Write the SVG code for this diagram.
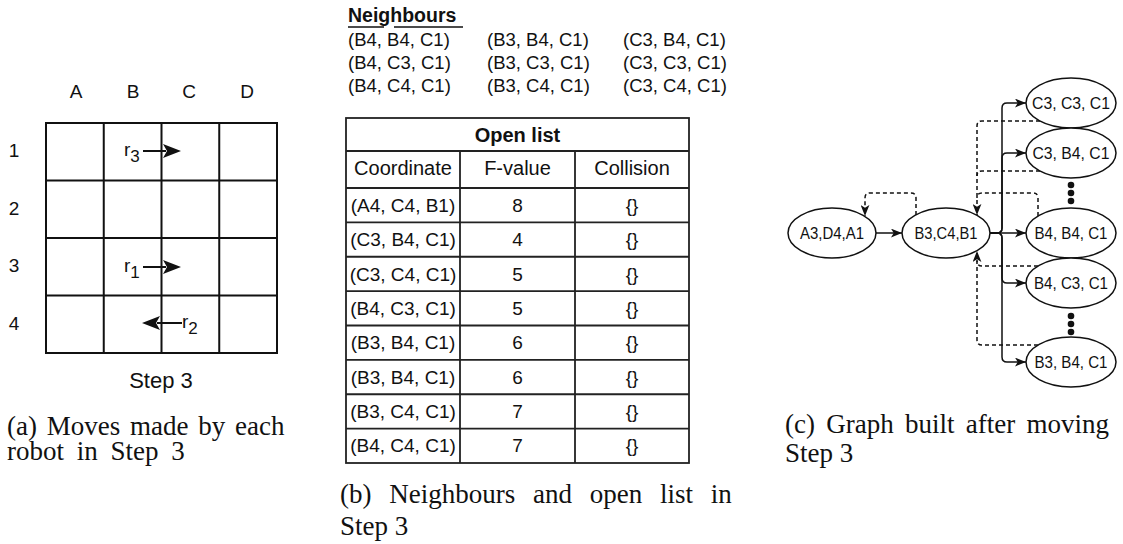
<svg xmlns="http://www.w3.org/2000/svg" width="1123" height="544" viewBox="0 0 1123 544">
  <style>
    .sans { font-family: "Liberation Sans", Arial, sans-serif; fill: #111; }
    .serif { font-family: "Liberation Serif", "Times New Roman", serif; font-size: 27px; fill: #111; }
    .grid { fill: none; stroke: #111; stroke-width: 2; }
    .tbl { fill: none; stroke: #222; stroke-width: 1.8; }
    .mv { stroke: #111; stroke-width: 2; fill: none; }
    .node { fill: #fff; stroke: #111; stroke-width: 1.5; }
    .edge { fill: none; stroke: #111; stroke-width: 1.5; }
    .back { fill: none; stroke: #111; stroke-width: 1.5; stroke-dasharray: 4 3; }
    .lbl { font-size: 17px; text-anchor: middle; }
    .cell { font-size: 19px; text-anchor: middle; }
  </style>
  <defs>
    <marker id="arr" viewBox="0 0 10 8" refX="10" refY="4" markerWidth="11" markerHeight="9" markerUnits="userSpaceOnUse" orient="auto">
      <path d="M0,0 L10,4 L0,8 L2.5,4 z" fill="#111"/>
    </marker>
    <path id="bigHead" d="M0,0 L-18,-7 L-14,0 L-18,7 z" fill="#111"/>
  </defs>

  <rect width="1123" height="544" fill="#fff"/>

  <!-- (a) grid with robot moves -->
  <g id="panel-a">
    <rect class="grid" x="46" y="123" width="231" height="230"/>
    <path class="grid" d="M103.75,123 V353 M161.5,123 V353 M219.25,123 V353 M46,180.5 H277 M46,238 H277 M46,295.5 H277"/>
    <g class="sans" font-size="19" text-anchor="middle">
      <text x="76" y="98">A</text>
      <text x="133" y="98">B</text>
      <text x="189" y="98">C</text>
      <text x="247" y="98">D</text>
      <text x="14" y="157">1</text>
      <text x="14" y="215">2</text>
      <text x="14" y="272">3</text>
      <text x="14" y="330">4</text>
    </g>
    <g id="r3">
      <text class="sans" font-size="19" x="124" y="156">r<tspan font-size="17" dy="6">3</tspan></text>
      <path class="mv" d="M143,151 H166"/>
      <use href="#bigHead" x="181" y="151"/>
    </g>
    <g id="r1">
      <text class="sans" font-size="19" x="124" y="272">r<tspan font-size="17" dy="6">1</tspan></text>
      <path class="mv" d="M143,267 H166"/>
      <use href="#bigHead" x="181" y="267"/>
    </g>
    <g id="r2">
      <text class="sans" font-size="19" x="182" y="328">r<tspan font-size="17" dy="6">2</tspan></text>
      <path class="mv" d="M182,323 H157"/>
      <use href="#bigHead" transform="translate(142,323) rotate(180)"/>
    </g>
    <text class="sans" font-size="22" x="161" y="388" text-anchor="middle">Step 3</text>
    <text class="serif" x="7" y="435" word-spacing="3">(a) Moves made by each</text>
    <text class="serif" x="7" y="460" word-spacing="6">robot in Step 3</text>
  </g>

  <!-- (b) neighbours and open list -->
  <g id="panel-b">
    <text class="sans" font-size="19.5" font-weight="bold" x="348" y="22">Neighbours</text>
    <path d="M348,27 H384 M394,27 H463" stroke="#111" stroke-width="1.6"/>
    <g class="sans" font-size="18.5">
      <text x="348" y="46">(B4, B4, C1)</text>
      <text x="487" y="46">(B3, B4, C1)</text>
      <text x="623" y="46">(C3, B4, C1)</text>
      <text x="348" y="69">(B4, C3, C1)</text>
      <text x="487" y="69">(B3, C3, C1)</text>
      <text x="623" y="69">(C3, C3, C1)</text>
      <text x="348" y="92">(B4, C4, C1)</text>
      <text x="487" y="92">(B3, C4, C1)</text>
      <text x="623" y="92">(C3, C4, C1)</text>
    </g>

    <g id="open-list">
      <rect class="tbl" x="346" y="118" width="343" height="345"/>
      <path class="tbl" d="M346,151 H689 M346,188 H689 M346,222.4 H689 M346,256.75 H689 M346,291.1 H689 M346,325.5 H689 M346,359.9 H689 M346,394.25 H689 M346,428.6 H689 M460,151 V463 M575,151 V463"/>
      <text class="sans" font-size="20" font-weight="bold" x="517.5" y="142" text-anchor="middle">Open list</text>
      <g class="sans" font-size="20" text-anchor="middle">
        <text x="403" y="175">Coordinate</text>
        <text x="517.5" y="175">F-value</text>
        <text x="632" y="175">Collision</text>
      </g>
      <g class="sans cell">
        <text x="403" y="211.7">(A4, C4, B1)</text><text x="517.5" y="211.7">8</text><text x="632" y="211.7">{}</text>
        <text x="403" y="246.1">(C3, B4, C1)</text><text x="517.5" y="246.1">4</text><text x="632" y="246.1">{}</text>
        <text x="403" y="280.5">(C3, C4, C1)</text><text x="517.5" y="280.5">5</text><text x="632" y="280.5">{}</text>
        <text x="403" y="314.8">(B4, C3, C1)</text><text x="517.5" y="314.8">5</text><text x="632" y="314.8">{}</text>
        <text x="403" y="349.2">(B3, B4, C1)</text><text x="517.5" y="349.2">6</text><text x="632" y="349.2">{}</text>
        <text x="403" y="383.6">(B3, B4, C1)</text><text x="517.5" y="383.6">6</text><text x="632" y="383.6">{}</text>
        <text x="403" y="418">(B3, C4, C1)</text><text x="517.5" y="418">7</text><text x="632" y="418">{}</text>
        <text x="403" y="452.3">(B4, C4, C1)</text><text x="517.5" y="452.3">7</text><text x="632" y="452.3">{}</text>
      </g>
    </g>
    <text class="serif" x="340" y="503" word-spacing="11">(b) Neighbours and open list in</text>
    <text class="serif" x="340" y="535">Step 3</text>
  </g>

  <!-- (c) search graph -->
  <g id="connectors">
    <path class="edge" d="M876,233 H902" marker-end="url(#arr)"/>
    <path class="edge" d="M990,233 H1026" marker-end="url(#arr)"/>
    <path class="edge" d="M990,233 H997 Q1002,233 1002,228 V108 Q1002,103 1007,103 H1026" marker-end="url(#arr)"/>
    <path class="edge" d="M990,233 H997 Q1002,233 1002,228 V158 Q1002,153 1007,153 H1026" marker-end="url(#arr)"/>
    <path class="edge" d="M990,233 H997 Q1002,233 1002,238 V278 Q1002,283 1007,283 H1026" marker-end="url(#arr)"/>
    <path class="edge" d="M990,233 H997 Q1002,233 1002,238 V357 Q1002,362 1007,362 H1026" marker-end="url(#arr)"/>

    <path class="back" d="M916,215 V198 Q916,193 911,193 H870 Q865,193 865,198 V216" marker-end="url(#arr)"/>
    <path class="back" d="M1040,121 H982 Q977,121 977,126 V215" marker-end="url(#arr)"/>
    <path class="back" d="M1040,171 H982 Q977,171 977,176"/>
    <path class="back" d="M1038,216 V198 Q1038,193 1033,193 H982 Q977,193 977,198"/>
    <path class="back" d="M1038,345 H982 Q977,345 977,340 V251" marker-end="url(#arr)"/>
    <path class="back" d="M1038,266 H982 Q977,266 977,261"/>
  </g>

  <g id="n-a3d4a1">
    <ellipse class="node" cx="832" cy="233" rx="44" ry="25"/>
    <text class="sans lbl" x="832" y="239" textLength="64" lengthAdjust="spacingAndGlyphs">A3,D4,A1</text>
  </g>
  <g id="n-b3c4b1">
    <ellipse class="node" cx="946" cy="233" rx="44" ry="25"/>
    <text class="sans lbl" x="946" y="239" textLength="63" lengthAdjust="spacingAndGlyphs">B3,C4,B1</text>
  </g>
  <g id="n-c3c3c1">
    <ellipse class="node" cx="1071" cy="103" rx="45" ry="25"/>
    <text class="sans lbl" x="1071" y="109" textLength="78" lengthAdjust="spacingAndGlyphs">C3, C3, C1</text>
  </g>
  <g id="n-c3b4c1">
    <ellipse class="node" cx="1071" cy="153" rx="45" ry="25"/>
    <text class="sans lbl" x="1071" y="159" textLength="77" lengthAdjust="spacingAndGlyphs">C3, B4, C1</text>
  </g>
  <g id="n-b4b4c1">
    <ellipse class="node" cx="1071" cy="233" rx="45" ry="25"/>
    <text class="sans lbl" x="1071" y="239" textLength="73" lengthAdjust="spacingAndGlyphs">B4, B4, C1</text>
  </g>
  <g id="n-b4c3c1">
    <ellipse class="node" cx="1071" cy="283" rx="45" ry="25"/>
    <text class="sans lbl" x="1071" y="289" textLength="74" lengthAdjust="spacingAndGlyphs">B4, C3, C1</text>
  </g>
  <g id="n-b3b4c1">
    <ellipse class="node" cx="1071" cy="362" rx="45" ry="25"/>
    <text class="sans lbl" x="1071" y="368" textLength="73" lengthAdjust="spacingAndGlyphs">B3, B4, C1</text>
  </g>
  <g id="ellipsis" fill="#111">
    <circle cx="1071" cy="185" r="3.3"/>
    <circle cx="1071" cy="193" r="3.3"/>
    <circle cx="1071" cy="201" r="3.3"/>
    <circle cx="1071" cy="316" r="3.3"/>
    <circle cx="1071" cy="324" r="3.3"/>
    <circle cx="1071" cy="332" r="3.3"/>
  </g>

  <text class="serif" x="785" y="433" word-spacing="4.5">(c) Graph built after moving</text>
  <text class="serif" x="785" y="462">Step 3</text>
</svg>
